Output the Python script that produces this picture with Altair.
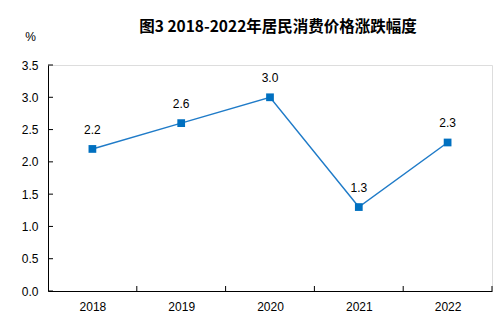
import altair as alt
import pandas as pd

years = [2018, 2019, 2020, 2021, 2022]
values = [2.2, 2.6, 3.0, 1.3, 2.3]
y_ticks = [0.0, 0.5, 1.0, 1.5, 2.0, 2.5, 3.0, 3.5]
x_edges = [2018.5, 2019.5, 2020.5, 2021.5, 2022.5]
title_text = "图3 2018-2022年居民消费价格涨跌幅度"

df = pd.DataFrame({"year": years, "value": values})
df_yt = pd.DataFrame({"value": y_ticks})
df_xt = pd.DataFrame({"year": x_edges})

font = "Liberation Sans"
xscale = alt.Scale(domain=[2017.5, 2022.5], nice=False, zero=False)
yscale = alt.Scale(domain=[0, 3.5], nice=False)

xaxis = alt.Axis(values=years, format="d", title=None, grid=False, ticks=False,
                 domainColor="black", labelFont=font, labelFontSize=12,
                 labelColor="black", labelPadding=10, labelOverlap=False)
yaxis = alt.Axis(values=y_ticks, format=".1f", title="%", titleAngle=0,
                 titleX=-18, titleY=-22, titleFont=font, titleFontSize=12,
                 titleFontWeight="normal", titleColor="black", titleAlign="center",
                 grid=False, ticks=False, domainColor="black", labelFont=font,
                 labelFontSize=12, labelColor="black", labelPadding=10,
                 labelOverlap=False)

X = alt.X("year:Q", scale=xscale, axis=xaxis)
Y = alt.Y("value:Q", scale=yscale, axis=yaxis)

base = alt.Chart(df)

line = base.mark_line(color="#1F7BC8", strokeWidth=1.5).encode(x=X, y=Y)

points = base.mark_square(color="#0070C0", size=60, opacity=1).encode(x=X, y=Y)

labels = base.mark_text(dy=-19, font=font, fontSize=12, color="black").encode(
    x=X, y=Y, text=alt.Text("value:Q", format=".1f"),
)

ytick_rules = alt.Chart(df_yt).mark_rule(color="black", strokeWidth=1).encode(
    y=Y, x=alt.value(0), x2=alt.value(5)
)

xtick_rules = alt.Chart(df_xt).mark_rule(color="black", strokeWidth=1).encode(
    x=X, y=alt.value(226), y2=alt.value(221)
)

chart = alt.layer(line, points, labels, ytick_rules, xtick_rules).properties(
    width=444, height=226,
    autosize=alt.AutoSizeParams(type="none"),
    padding={"left": 48, "top": 65, "right": 12, "bottom": 31},
    title=alt.TitleParams(title_text, font="Noto Sans CJK SC", fontSize=15.5, fontWeight="bold",
                          color="black", anchor="middle", dx=8, offset=-5),
).configure_view(stroke=None).configure(background="white")

chart.save("out.html", embed_options={"renderer": "svg", "actions": False})
